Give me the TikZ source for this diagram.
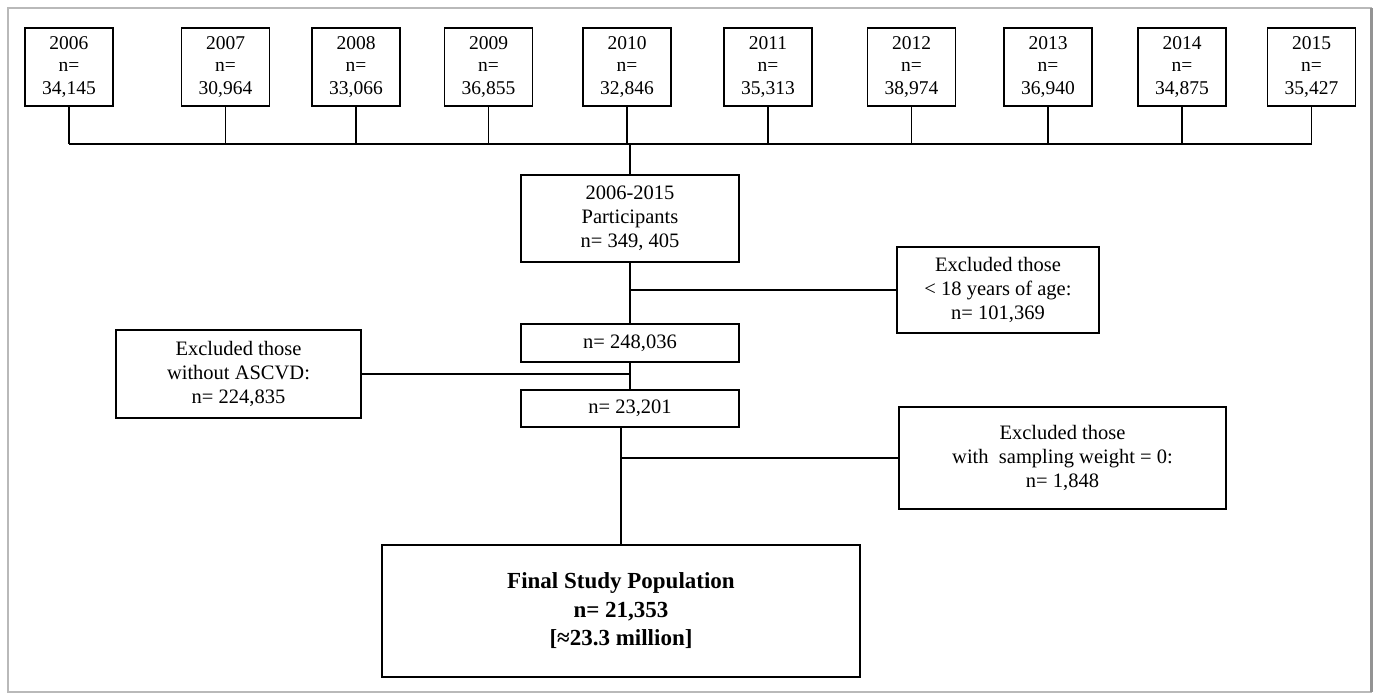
\documentclass[tikz,border=0pt]{standalone}
\usepackage{fontspec}
\setmainfont{Liberation Serif}
\usetikzlibrary{positioning,calc}
\newcommand{\framecol}{gray!55}

\begin{document}
\begin{tikzpicture}[x=1pt,y=-1pt,
  box/.style={draw,line width=1.4pt,align=center,inner sep=0pt,
    font=\fontsize{20.5}{24}\selectfont},
  yearbox/.style={box,minimum width=88pt,minimum height=78pt,
    font=\fontsize{19.5}{22.5}\selectfont},
  conn/.style={line width=1.4pt}]
  \useasboundingbox (0,0) rectangle (1377,694);

  % outer frame
  \draw[\framecol,line width=2.5pt] (8,8) rectangle (1371,692);
  \draw[gray!85,line width=3pt] (1371,8) -- (1371,692);

  % year boxes along the top
  \foreach \yr/\cx/\cnt in {2006/69/{34,145},2007/225.5/{30,964},2008/356/{33,066},
      2009/488.5/{36,855},2010/627/{32,846},2011/768/{35,313},2012/911.5/{38,974},
      2013/1048/{36,940},2014/1182/{34,875},2015/1311.5/{35,427}}
    \node[yearbox] (y\yr) at (\cx,67) {\yr\\n=\\\cnt};

  % bus line joining the years
  \coordinate (bus) at (0,144);
  \foreach \yr in {2006,...,2015}
    \draw[conn] (y\yr.south) -- (y\yr.south |- bus);
  \draw[conn] (y2006.south |- bus) -- (y2015.south |- bus);

  % main column and exclusions
  \node[box,minimum width=218pt,minimum height=87pt] (part) at (630,218.5)
    {2006-2015\\Participants\\n= 349, 405};
  \node[box,minimum width=202pt,minimum height=86pt] (exage) at (998,290)
    {Excluded those\\< 18 years of age:\\n= 101,369};
  \node[box,minimum width=218pt,minimum height=38pt] (nage) at (630,343)
    {n= 248,036};
  \node[box,minimum width=245pt,minimum height=88pt] (exasc) at (238.5,374)
    {Excluded those\\without ASCVD:\\n= 224,835};
  \node[box,minimum width=218pt,minimum height=37pt] (nasc) at (630,408.5)
    {n= 23,201};
  \node[box,minimum width=327pt,minimum height=102pt] (exwt) at (1062.5,458)
    {Excluded those\\with~ sampling weight = 0:\\n= 1,848};
  \node[box,minimum width=478pt,minimum height=132pt,
    font=\fontsize{23}{28.5}\selectfont\bfseries] (final) at (621,611)
    {Final Study Population\\n= 21,353\\{[}≈23.3 million{]}};

  \draw[conn] (part.north |- bus) -- (part.north);
  \draw[conn] (part.south) -- (nage.north);
  \draw[conn] (part.south |- exage.west) -- (exage.west);
  \draw[conn] (nage.south) -- (nasc.north);
  \draw[conn] (nage.south |- exasc.east) -- (exasc.east);
  \draw[conn] (final.north |- nasc.south) -- (final.north);
  \draw[conn] (final.north |- exwt.west) -- (exwt.west);
\end{tikzpicture}
\end{document}
